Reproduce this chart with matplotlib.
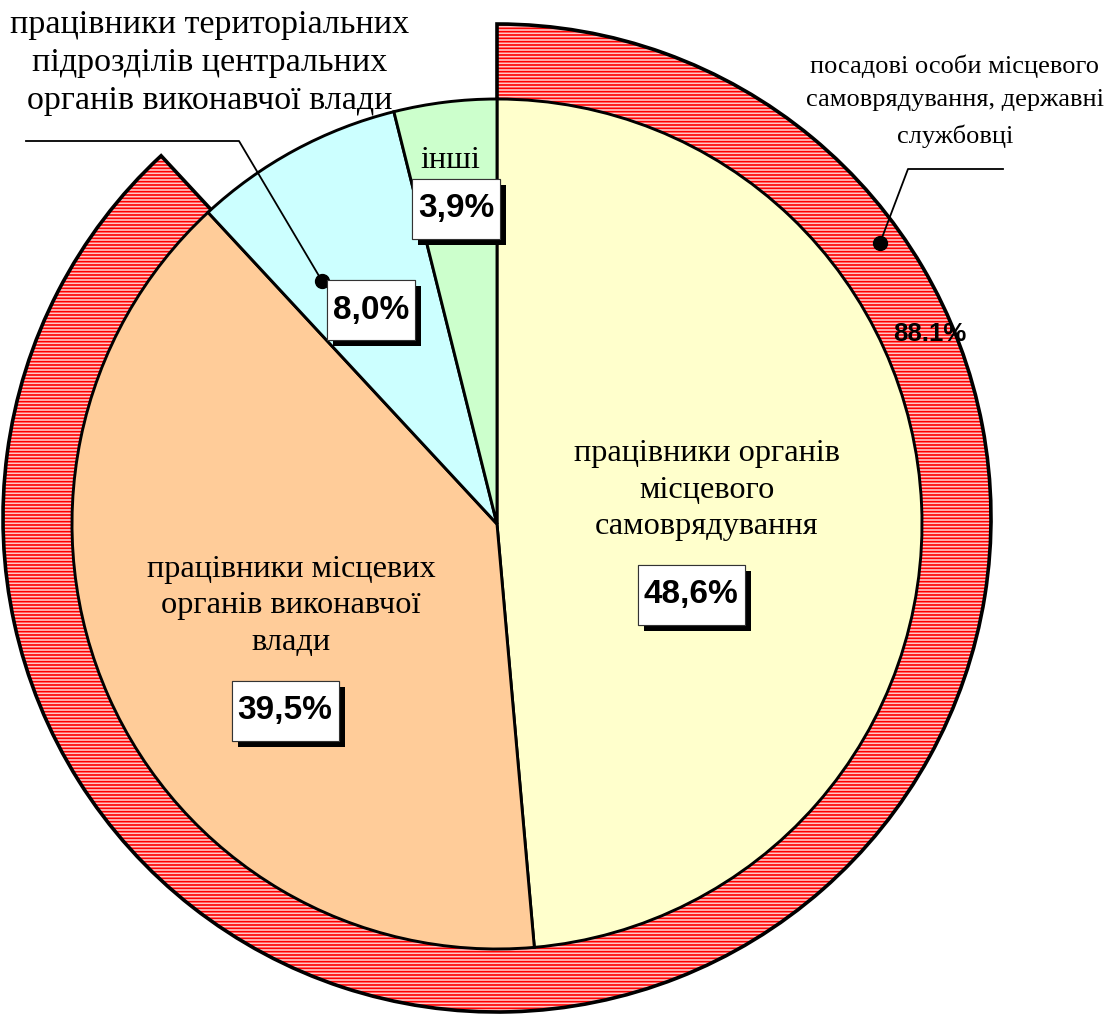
import matplotlib.pyplot as plt
import matplotlib.patheffects as pe
from matplotlib.patches import Rectangle

# inner pie: shares, %
inner_labels = ['працівники органів\nмісцевого\nсамоврядування',
                'працівники місцевих\nорганів виконавчої\nвлади',
                '', 'інші']
inner_vals = [48.6, 39.5, 8.0, 3.9]
inner_txt = ['48,6%', '39,5%', '8,0%', '3,9%']
inner_colors = ['#ffffcc', '#ffcc99', '#ccffff', '#ccffcc']

# outer ring
ring_vals = [88.1, 11.9]
ring_txt = '88.1%'
ring_label = 'посадові особи місцевого\nсамоврядування, державні\nслужбовці'
terr_label = 'працівники територіальних\nпідрозділів центральних\nорганів виконавчої влади'

W, H = 1119, 1014
plt.rcParams['hatch.linewidth'] = 1.2

fig = plt.figure(figsize=(W / 100, H / 100), dpi=100)
ax = fig.add_axes([0, 0, 1, 1])

ring_c = (497, H - 518)
# outer ring: hatch fill, then outline
fill, _ = ax.pie(ring_vals, startangle=90, counterclock=False,
                 center=ring_c, radius=494, frame=True,
                 wedgeprops=dict(linewidth=0, edgecolor='#ff0000'))
fill[0].set_facecolor('#ffc8c8')
fill[0].set_hatch('-----')
fill[1].set_visible(False)
edge, _ = ax.pie(ring_vals, startangle=90, counterclock=False,
                 center=ring_c, radius=494, frame=True,
                 wedgeprops=dict(linewidth=2.6, edgecolor='black', facecolor='none'))
edge[1].set_visible(False)

# inner pie
wedges, _ = ax.pie(inner_vals, startangle=90, counterclock=False,
                   center=(497, H - 524), radius=425, frame=True,
                   colors=inner_colors,
                   wedgeprops=dict(linewidth=2.1, edgecolor='black'))

ax.set_xlim(0, W)
ax.set_ylim(0, H)
ax.set_aspect('equal')
ax.set_axis_off()

serif = 'Liberation Serif'
sans = 'Liberation Sans'


def box(x, y, s, w):
    r = Rectangle((x - w / 2, H - y - 30), w, 60, fc='white', ec='#333333', lw=0.8, zorder=4)
    r.set_path_effects([
        pe.withSimplePatchShadow(offset=(4.5, -4.5), shadow_rgbFace='black', alpha=1),
        pe.Normal()])
    ax.add_patch(r)
    ax.text(x, H - y, s, fontsize=24, fontweight='bold', family=sans,
            ha='center', va='center', zorder=5)


# category labels
ax.text(707, H - 490, inner_labels[0], family=serif, fontsize=23.3,
        ha='center', va='center', linespacing=1.36)
ax.text(291, H - 606, inner_labels[1], family=serif, fontsize=23.3,
        ha='center', va='center', linespacing=1.36)
ax.text(450, H - 160, inner_labels[3], family=serif, fontsize=23.3,
        ha='center', va='center')
ax.text(210, H - 63, terr_label, family=serif, fontsize=24.5,
        ha='center', va='center', linespacing=1.32)
ax.text(955, H - 101, ring_label, family=serif, fontsize=19,
        ha='center', va='center', linespacing=1.7)

box(691, 595, inner_txt[0], 107)
box(285, 711, inner_txt[1], 107)
box(371, 310, inner_txt[2], 88)
box(456, 209, inner_txt[3], 88)

ax.text(930, H - 334, ring_txt, family=sans, fontsize=18.5, fontweight='bold',
        ha='center', va='center')

# leader lines
ax.plot([26, 239, 322], [H - 141, H - 141, H - 281], color='black', lw=1.3)
ax.plot([322], [H - 281], 'o', color='black', ms=10)
ax.plot([1003, 908, 880], [H - 169, H - 169, H - 243], color='black', lw=1.3)
ax.plot([880], [H - 243], 'o', color='black', ms=10)

fig.savefig('out.png', dpi=100)
